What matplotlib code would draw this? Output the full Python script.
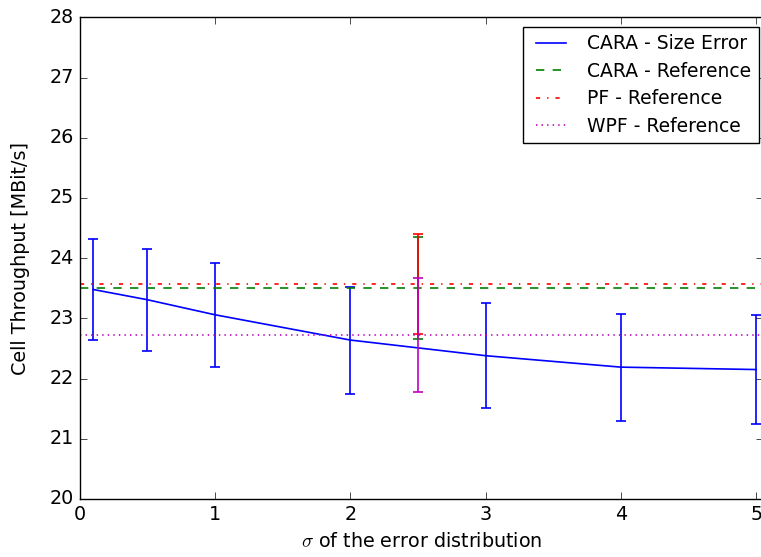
import numpy as np
import matplotlib
matplotlib.use("Agg")
import matplotlib.pyplot as plt

plt.style.use("classic")
plt.rcParams["font.size"] = 13.8
plt.rcParams["xtick.major.size"] = 5
plt.rcParams["ytick.major.size"] = 5

# CARA with size error
sigma = [0.1, 0.5, 1, 2, 3, 4, 5]
cara_err_mean = [23.48, 23.31, 23.06, 22.64, 22.38, 22.19, 22.15]
cara_err_lo = [22.64, 22.46, 22.20, 21.75, 21.51, 21.30, 21.25]
cara_err_hi = [24.32, 24.16, 23.92, 23.52, 23.26, 23.08, 23.05]

# reference schemes (no error), error bar drawn at sigma = 2.5
ref_x = 2.5
ref_names = ["CARA - Reference", "PF - Reference", "WPF - Reference"]
ref_mean = [23.51, 23.57, 22.73]
ref_lo = [22.66, 22.74, 21.78]
ref_hi = [24.35, 24.40, 23.67]
ref_colors = ["g", "r", "m"]
ref_styles = ["--", "-.", ":"]

W, H = 761, 557
fig = plt.figure(figsize=(W / 100, H / 100), dpi=100, facecolor="white")
# right spine falls just outside the image
ax = fig.add_axes([79.5 / W, (H - 499) / H, 683.5 / W, (499 - 17.3) / H])

m = np.array(cara_err_mean)
yerr = [m - np.array(cara_err_lo), np.array(cara_err_hi) - m]
ax.plot(sigma, cara_err_mean, color="b", ls="-", lw=1.2, label="CARA - Size Error")
ax.errorbar(sigma, cara_err_mean, yerr=yerr, color="b", fmt="none",
            capsize=3.5, elinewidth=1.2, capthick=1.2)

xs = np.array([0, 5.05])
for name, mu, lo, hi, c, ls in zip(ref_names, ref_mean, ref_lo, ref_hi, ref_colors, ref_styles):
    ax.plot(xs, [mu, mu], color=c, ls=ls, lw=1.2, label=name)
    ax.errorbar([ref_x], [mu], yerr=[[mu - lo], [hi - mu]], color=c, fmt="none",
                capsize=3.5, elinewidth=1.2, capthick=1.2)

ax.set_xlim(0, 5.05)
ax.set_ylim(20, 28)
ax.set_xticks(range(0, 6))
ax.set_yticks(range(20, 29))
ax.set_xlabel(r"$\sigma$ of the error distribution", labelpad=6)
ax.set_ylabel("Cell Throughput [MBit/s]", labelpad=14)
ax.legend(loc="upper right", fontsize=13.5, handlelength=2.2, labelspacing=0.45,
          borderaxespad=0, bbox_to_anchor=(758.7 / W, 1 - 26.7 / H),
          bbox_transform=fig.transFigure)

fig.savefig("out.png", dpi=100, facecolor="white")
